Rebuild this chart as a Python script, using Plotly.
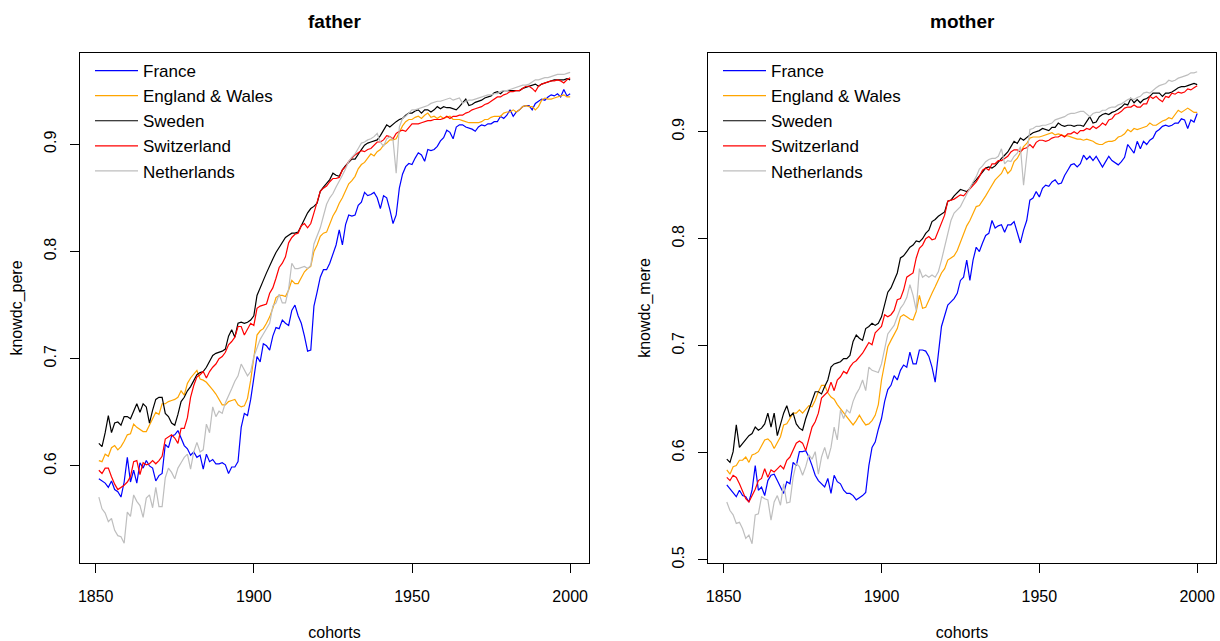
import plotly.graph_objects as go

cohorts = list(range(1851, 2001))
countries = ["France", "England & Wales", "Sweden", "Switzerland", "Netherlands"]
colors = ["#0000FF", "#FFA500", "#000000", "#FF0000", "#BEBEBE"]

# ---------------- father (knowdc_pere) ----------------
france_pere = [
    0.588, 0.586, 0.584, 0.580, 0.586, 0.578, 0.576, 0.571, 0.585, 0.608,
    0.585, 0.596, 0.584, 0.603, 0.598, 0.605, 0.600, 0.598, 0.586, 0.591,
    0.593, 0.620, 0.617, 0.628, 0.629, 0.633, 0.626, 0.619, 0.616, 0.610,
    0.613, 0.608, 0.610, 0.597, 0.611, 0.604, 0.606, 0.602, 0.602, 0.603,
    0.601, 0.593, 0.599, 0.599, 0.604, 0.636, 0.649, 0.647, 0.662, 0.680,
    0.702, 0.697, 0.714, 0.712, 0.708, 0.721, 0.729, 0.728, 0.736, 0.733,
    0.731, 0.745, 0.750, 0.740, 0.733, 0.721, 0.707, 0.708, 0.749, 0.762,
    0.776, 0.783, 0.783, 0.789, 0.798, 0.806, 0.820, 0.806, 0.825, 0.834,
    0.833, 0.834, 0.843, 0.846, 0.855, 0.852, 0.853, 0.855, 0.850, 0.840,
    0.852, 0.850, 0.839, 0.826, 0.834, 0.859, 0.872, 0.879, 0.882, 0.881,
    0.887, 0.892, 0.890, 0.884, 0.895, 0.894, 0.895, 0.898, 0.903, 0.906,
    0.913, 0.911, 0.905, 0.916, 0.918, 0.918, 0.916, 0.915, 0.914, 0.912,
    0.916, 0.918, 0.917, 0.919, 0.919, 0.921, 0.921, 0.926, 0.924, 0.927,
    0.932, 0.926, 0.930, 0.932, 0.935, 0.936, 0.936, 0.932, 0.938, 0.940,
    0.942, 0.941, 0.944, 0.946, 0.945, 0.947, 0.944, 0.951, 0.945, 0.947,
]
england_pere = [
    0.605, 0.604, 0.611, 0.609, 0.617, 0.619, 0.615, 0.618, 0.623, 0.629,
    0.630, 0.639, 0.636, 0.634, 0.632, 0.632, 0.638, 0.643, 0.650, 0.648,
    0.658, 0.658, 0.660, 0.661, 0.662, 0.664, 0.670, 0.666, 0.677, 0.682,
    0.686, 0.689, 0.681, 0.680, 0.678, 0.675, 0.671, 0.667, 0.662, 0.657,
    0.657, 0.660, 0.661, 0.662, 0.657, 0.655, 0.656, 0.663, 0.680, 0.702,
    0.722, 0.726, 0.728, 0.733, 0.739, 0.747, 0.757, 0.759, 0.759, 0.758,
    0.764, 0.773, 0.770, 0.770, 0.776, 0.781, 0.784, 0.786, 0.800, 0.806,
    0.814, 0.817, 0.818, 0.826, 0.833, 0.838, 0.845, 0.850, 0.856, 0.863,
    0.866, 0.870, 0.877, 0.881, 0.883, 0.887, 0.891, 0.889, 0.893, 0.895,
    0.899, 0.901, 0.904, 0.904, 0.905, 0.911, 0.917, 0.921, 0.923, 0.923,
    0.925, 0.926, 0.924, 0.927, 0.929, 0.925, 0.926, 0.924, 0.926, 0.924,
    0.925, 0.926, 0.923, 0.923, 0.923, 0.922, 0.921, 0.920, 0.920, 0.920,
    0.920, 0.921, 0.923, 0.923, 0.925, 0.926, 0.926, 0.926, 0.929, 0.930,
    0.930, 0.932, 0.930, 0.932, 0.935, 0.936, 0.935, 0.935, 0.932, 0.935,
    0.941, 0.943, 0.942, 0.942, 0.943, 0.944, 0.945, 0.946, 0.944, 0.944,
]
sweden_pere = [
    0.621, 0.618, 0.631, 0.647, 0.631, 0.640, 0.641, 0.638, 0.646, 0.646,
    0.644, 0.652, 0.658, 0.650, 0.658, 0.655, 0.640, 0.652, 0.662, 0.664,
    0.664, 0.649, 0.646, 0.640, 0.638, 0.648, 0.660, 0.664, 0.670, 0.674,
    0.679, 0.685, 0.687, 0.688, 0.692, 0.697, 0.703, 0.705, 0.706, 0.707,
    0.709, 0.721, 0.727, 0.720, 0.733, 0.734, 0.733, 0.734, 0.736, 0.740,
    0.759, 0.767, 0.773, 0.780, 0.787, 0.793, 0.799, 0.804, 0.809, 0.813,
    0.815, 0.817, 0.817, 0.818, 0.824, 0.830, 0.836, 0.840, 0.842, 0.845,
    0.856, 0.860, 0.863, 0.867, 0.873, 0.871, 0.870, 0.876, 0.880, 0.883,
    0.886, 0.886, 0.891, 0.895, 0.899, 0.901, 0.902, 0.903, 0.904, 0.908,
    0.913, 0.918, 0.916, 0.919, 0.921, 0.923, 0.924, 0.927, 0.929, 0.929,
    0.931, 0.932, 0.929, 0.932, 0.932, 0.930, 0.932, 0.935, 0.933, 0.935,
    0.934, 0.934, 0.933, 0.932, 0.935, 0.939, 0.942, 0.936, 0.937, 0.939,
    0.940, 0.941, 0.943, 0.944, 0.945, 0.948, 0.949, 0.947, 0.950, 0.950,
    0.950, 0.950, 0.950, 0.950, 0.952, 0.953, 0.954, 0.955, 0.956, 0.954,
    0.956, 0.957, 0.958, 0.959, 0.960, 0.960, 0.960, 0.960, 0.961, 0.960,
]
switzerland_pere = [
    0.596, 0.593, 0.598, 0.598, 0.590, 0.583, 0.578, 0.580, 0.582, 0.585,
    0.590, 0.604, 0.605, 0.592, 0.603, 0.601, 0.602, 0.605, 0.602, 0.605,
    0.609, 0.625, 0.627, 0.629, 0.626, 0.621, 0.635, 0.635, 0.645, 0.664,
    0.675, 0.683, 0.685, 0.688, 0.682, 0.688, 0.692, 0.695, 0.700, 0.702,
    0.706, 0.713, 0.716, 0.720, 0.730, 0.730, 0.722, 0.728, 0.733, 0.731,
    0.747, 0.749, 0.750, 0.751, 0.761, 0.766, 0.775, 0.785, 0.789, 0.795,
    0.808, 0.813, 0.816, 0.817, 0.824, 0.826, 0.822, 0.826, 0.836, 0.845,
    0.856, 0.859, 0.861, 0.865, 0.868, 0.868, 0.869, 0.876, 0.879, 0.884,
    0.887, 0.890, 0.892, 0.894, 0.893, 0.895, 0.896, 0.899, 0.902, 0.902,
    0.904, 0.908, 0.907, 0.905, 0.910, 0.912, 0.913, 0.912, 0.915, 0.919,
    0.919, 0.919, 0.920, 0.921, 0.922, 0.922, 0.923, 0.923, 0.923, 0.924,
    0.926, 0.924, 0.926, 0.926, 0.927, 0.927, 0.929, 0.930, 0.932, 0.933,
    0.934, 0.935, 0.937, 0.938, 0.940, 0.942, 0.944, 0.944, 0.946, 0.947,
    0.949, 0.949, 0.950, 0.950, 0.952, 0.954, 0.954, 0.952, 0.949, 0.954,
    0.956, 0.957, 0.958, 0.959, 0.959, 0.960, 0.959, 0.957, 0.960, 0.962,
]
netherlands_pere = [
    0.571, 0.560, 0.556, 0.548, 0.551, 0.540, 0.535, 0.534, 0.528, 0.557,
    0.553, 0.573, 0.567, 0.563, 0.552, 0.570, 0.573, 0.561, 0.580, 0.562,
    0.562, 0.589, 0.598, 0.594, 0.588, 0.598, 0.603, 0.608, 0.611, 0.597,
    0.613, 0.622, 0.613, 0.615, 0.639, 0.631, 0.655, 0.646, 0.651, 0.649,
    0.659, 0.665, 0.672, 0.679, 0.684, 0.695, 0.690, 0.684, 0.688, 0.702,
    0.710, 0.718, 0.723, 0.728, 0.733, 0.749, 0.752, 0.760, 0.752, 0.752,
    0.765, 0.789, 0.784, 0.784, 0.785, 0.786, 0.784, 0.787, 0.807, 0.814,
    0.822, 0.833, 0.844, 0.850, 0.854, 0.860, 0.865, 0.871, 0.877, 0.884,
    0.888, 0.891, 0.896, 0.901, 0.902, 0.904, 0.905, 0.907, 0.910, 0.902,
    0.898, 0.905, 0.907, 0.904, 0.873, 0.916, 0.924, 0.926, 0.929, 0.932,
    0.932, 0.933, 0.934, 0.935, 0.936, 0.938, 0.939, 0.940, 0.940, 0.941,
    0.942, 0.943, 0.941, 0.942, 0.943, 0.938, 0.940, 0.941, 0.941, 0.942,
    0.943, 0.944, 0.945, 0.946, 0.946, 0.947, 0.947, 0.949, 0.950, 0.950,
    0.951, 0.952, 0.953, 0.954, 0.955, 0.955, 0.956, 0.958, 0.960, 0.960,
    0.961, 0.962, 0.962, 0.963, 0.964, 0.965, 0.965, 0.965, 0.966, 0.967,
]

# ---------------- mother (knowdc_mere) ----------------
france_mere = [
    0.570, 0.566, 0.563, 0.559, 0.565, 0.560, 0.559, 0.554, 0.565, 0.588,
    0.565, 0.568, 0.560, 0.574, 0.579, 0.580, 0.574, 0.568, 0.562, 0.573,
    0.571, 0.591, 0.588, 0.601, 0.601, 0.602, 0.596, 0.588, 0.579, 0.574,
    0.571, 0.568, 0.576, 0.562, 0.579, 0.573, 0.571, 0.565, 0.562, 0.562,
    0.560, 0.556, 0.558, 0.560, 0.563, 0.588, 0.605, 0.610, 0.622, 0.632,
    0.648, 0.659, 0.663, 0.672, 0.668, 0.677, 0.682, 0.680, 0.694, 0.683,
    0.683, 0.696, 0.696, 0.695, 0.690, 0.680, 0.666, 0.690, 0.718, 0.728,
    0.738, 0.741, 0.744, 0.749, 0.761, 0.764, 0.780, 0.761, 0.780, 0.792,
    0.788, 0.796, 0.803, 0.805, 0.817, 0.810, 0.812, 0.813, 0.806, 0.813,
    0.813, 0.816, 0.806, 0.796, 0.808, 0.817, 0.836, 0.838, 0.844, 0.839,
    0.847, 0.850, 0.849, 0.853, 0.855, 0.851, 0.852, 0.859, 0.864, 0.869,
    0.870, 0.867, 0.870, 0.878, 0.874, 0.877, 0.873, 0.877, 0.872, 0.867,
    0.872, 0.877, 0.873, 0.871, 0.869, 0.872, 0.876, 0.888, 0.884, 0.880,
    0.891, 0.884, 0.891, 0.888, 0.892, 0.894, 0.900, 0.902, 0.905, 0.906,
    0.905, 0.906, 0.908, 0.908, 0.912, 0.911, 0.903, 0.911, 0.909, 0.917,
]
england_mere = [
    0.584, 0.580, 0.587, 0.588, 0.593, 0.593, 0.596, 0.591, 0.598, 0.599,
    0.601, 0.607, 0.612, 0.613, 0.610, 0.604, 0.610, 0.615, 0.626, 0.627,
    0.632, 0.637, 0.637, 0.640, 0.637, 0.641, 0.644, 0.643, 0.649, 0.657,
    0.663, 0.663, 0.656, 0.652, 0.650, 0.645, 0.641, 0.637, 0.633, 0.629,
    0.626, 0.630, 0.635, 0.630, 0.626, 0.627, 0.630, 0.635, 0.645, 0.668,
    0.682, 0.699, 0.705, 0.710, 0.716, 0.727, 0.729, 0.727, 0.725, 0.724,
    0.732, 0.747, 0.735, 0.736, 0.743, 0.749, 0.755, 0.761, 0.768, 0.772,
    0.780, 0.782, 0.784, 0.789, 0.797, 0.805, 0.812, 0.817, 0.824, 0.830,
    0.831, 0.835, 0.840, 0.845, 0.850, 0.855, 0.858, 0.861, 0.867, 0.861,
    0.864, 0.872, 0.875, 0.880, 0.886, 0.889, 0.894, 0.895, 0.895, 0.895,
    0.896, 0.897, 0.898, 0.899, 0.897, 0.898, 0.897, 0.896, 0.896, 0.895,
    0.894, 0.893, 0.893, 0.892, 0.893, 0.892, 0.891, 0.889, 0.888, 0.888,
    0.890, 0.891, 0.891, 0.892, 0.895, 0.896, 0.898, 0.902, 0.900, 0.903,
    0.902, 0.903, 0.904, 0.905, 0.908, 0.906, 0.906, 0.908, 0.910, 0.911,
    0.913, 0.912, 0.916, 0.920, 0.918, 0.920, 0.922, 0.920, 0.918, 0.918,
]
sweden_mere = [
    0.594, 0.591, 0.601, 0.626, 0.605, 0.609, 0.612, 0.616, 0.618, 0.624,
    0.621, 0.623, 0.627, 0.637, 0.624, 0.637, 0.616, 0.627, 0.637, 0.644,
    0.634, 0.637, 0.627, 0.623, 0.621, 0.632, 0.641, 0.648, 0.657, 0.657,
    0.655, 0.662, 0.668, 0.680, 0.683, 0.684, 0.685, 0.688, 0.688, 0.691,
    0.704, 0.710, 0.707, 0.705, 0.716, 0.718, 0.721, 0.719, 0.721, 0.727,
    0.740, 0.750, 0.754, 0.761, 0.768, 0.782, 0.784, 0.788, 0.792, 0.794,
    0.798, 0.797, 0.800, 0.805, 0.808, 0.816, 0.818, 0.821, 0.823, 0.825,
    0.835, 0.836, 0.840, 0.843, 0.846, 0.845, 0.844, 0.847, 0.852, 0.855,
    0.859, 0.863, 0.866, 0.867, 0.866, 0.868, 0.872, 0.875, 0.878, 0.881,
    0.886, 0.891, 0.889, 0.894, 0.892, 0.895, 0.897, 0.899, 0.900, 0.901,
    0.903, 0.902, 0.901, 0.904, 0.904, 0.908, 0.906, 0.905, 0.906, 0.906,
    0.905, 0.906, 0.906, 0.905, 0.909, 0.914, 0.908, 0.909, 0.914, 0.916,
    0.917, 0.916, 0.918, 0.919, 0.921, 0.923, 0.926, 0.925, 0.931, 0.927,
    0.930, 0.927, 0.930, 0.931, 0.933, 0.936, 0.936, 0.936, 0.933, 0.936,
    0.936, 0.937, 0.939, 0.941, 0.942, 0.942, 0.943, 0.944, 0.945, 0.944,
]
switzerland_mere = [
    0.577, 0.574, 0.579, 0.577, 0.571, 0.563, 0.557, 0.554, 0.560, 0.566,
    0.574, 0.576, 0.585, 0.577, 0.584, 0.582, 0.585, 0.588, 0.585, 0.593,
    0.596, 0.602, 0.609, 0.611, 0.609, 0.602, 0.613, 0.624, 0.629, 0.637,
    0.651, 0.654, 0.657, 0.666, 0.658, 0.668, 0.671, 0.676, 0.674, 0.680,
    0.684, 0.686, 0.689, 0.693, 0.698, 0.703, 0.701, 0.712, 0.715, 0.718,
    0.729, 0.727, 0.729, 0.733, 0.743, 0.744, 0.752, 0.764, 0.766, 0.768,
    0.782, 0.791, 0.794, 0.800, 0.802, 0.799, 0.800, 0.807, 0.815, 0.822,
    0.835, 0.836, 0.837, 0.839, 0.841, 0.840, 0.843, 0.846, 0.850, 0.853,
    0.858, 0.864, 0.866, 0.864, 0.870, 0.870, 0.873, 0.873, 0.875, 0.877,
    0.881, 0.883, 0.883, 0.881, 0.884, 0.885, 0.888, 0.885, 0.890, 0.892,
    0.892, 0.891, 0.892, 0.894, 0.895, 0.895, 0.897, 0.895, 0.898, 0.898,
    0.900, 0.898, 0.901, 0.901, 0.903, 0.902, 0.905, 0.903, 0.905, 0.908,
    0.906, 0.911, 0.912, 0.916, 0.917, 0.919, 0.922, 0.923, 0.923, 0.925,
    0.923, 0.923, 0.926, 0.926, 0.933, 0.931, 0.933, 0.930, 0.928, 0.933,
    0.932, 0.936, 0.935, 0.937, 0.936, 0.937, 0.940, 0.939, 0.941, 0.943,
]
netherlands_mere = [
    0.554, 0.546, 0.542, 0.534, 0.535, 0.529, 0.520, 0.523, 0.515, 0.542,
    0.543, 0.559, 0.557, 0.556, 0.537, 0.554, 0.560, 0.551, 0.571, 0.553,
    0.554, 0.577, 0.590, 0.587, 0.579, 0.587, 0.598, 0.594, 0.601, 0.580,
    0.596, 0.605, 0.594, 0.605, 0.624, 0.612, 0.640, 0.632, 0.640, 0.637,
    0.648, 0.655, 0.660, 0.668, 0.658, 0.680, 0.677, 0.676, 0.675, 0.683,
    0.697, 0.711, 0.715, 0.719, 0.727, 0.735, 0.739, 0.745, 0.757, 0.747,
    0.733, 0.772, 0.764, 0.766, 0.764, 0.766, 0.764, 0.769, 0.780, 0.792,
    0.805, 0.817, 0.824, 0.827, 0.830, 0.836, 0.842, 0.847, 0.853, 0.858,
    0.865, 0.868, 0.872, 0.874, 0.875, 0.875, 0.877, 0.884, 0.870, 0.873,
    0.872, 0.877, 0.880, 0.886, 0.850, 0.877, 0.902, 0.903, 0.905, 0.905,
    0.906, 0.906, 0.907, 0.908, 0.911, 0.912, 0.913, 0.914, 0.916, 0.917,
    0.917, 0.918, 0.919, 0.919, 0.916, 0.914, 0.917, 0.918, 0.918, 0.920,
    0.920, 0.922, 0.923, 0.923, 0.925, 0.926, 0.928, 0.930, 0.931, 0.930,
    0.932, 0.933, 0.936, 0.937, 0.936, 0.939, 0.941, 0.943, 0.944, 0.945,
    0.948, 0.947, 0.948, 0.950, 0.951, 0.952, 0.953, 0.955, 0.955, 0.956,
]

x_ticks = [1850, 1900, 1950, 2000]
y_ticks_pere = [0.6, 0.7, 0.8, 0.9]
y_ticks_mere = [0.5, 0.6, 0.7, 0.8, 0.9]

pere = [france_pere, england_pere, sweden_pere, switzerland_pere, netherlands_pere]
mere = [france_mere, england_mere, sweden_mere, switzerland_mere, netherlands_mere]

FONT = "Liberation Sans, Arial, Helvetica, sans-serif"
W, H = 1220, 641

fig = go.Figure()
for name, col, vals in zip(countries, colors, pere):
    fig.add_trace(go.Scatter(x=cohorts, y=vals, mode="lines", name=name,
                             line=dict(color=col, width=1.2),
                             xaxis="x", yaxis="y", legend="legend"))
for name, col, vals in zip(countries, colors, mere):
    fig.add_trace(go.Scatter(x=cohorts, y=vals, mode="lines", name=name,
                             line=dict(color=col, width=1.2),
                             xaxis="x2", yaxis="y2", legend="legend2"))

# plot-box pixel geometry
L1, R1 = 80, 589
L2, R2 = 708, 1216
TOP, BOT = 53, 563
ydom = [(H - BOT) / H, (H - TOP) / H]

common_axis = dict(showline=True, linecolor="black", linewidth=1, mirror=True,
                   ticks="outside", ticklen=9, tickwidth=1, tickcolor="black",
                   showgrid=False, zeroline=False,
                   tickfont=dict(family=FONT, size=16, color="black"))

xr = [1845.04, 2005.96]
leg_common = dict(xanchor="left", yanchor="top", bgcolor="rgba(0,0,0,0)",
                  borderwidth=0, itemwidth=43,
                  font=dict(family=FONT, size=17, color="black"))
fig.update_layout(
    width=W, height=H,
    margin=dict(l=0, r=0, t=0, b=0),
    paper_bgcolor="white", plot_bgcolor="white",
    font=dict(family=FONT, size=16, color="black"),
    xaxis=dict(domain=[L1 / W, R1 / W], range=xr, tickvals=x_ticks,
               title=dict(text="cohorts", standoff=22, font=dict(size=16)),
               anchor="y", ticklabelstandoff=10, automargin=False, **common_axis),
    yaxis=dict(domain=ydom, range=[0.5095, 0.985], tickvals=y_ticks_pere,
               tickangle=-90, tickformat=".1f",
               title=dict(text="knowdc_pere", standoff=14, font=dict(size=16)),
               anchor="x", ticklabelstandoff=8, automargin=False, **common_axis),
    xaxis2=dict(domain=[L2 / W, R2 / W], range=xr, tickvals=x_ticks,
                title=dict(text="cohorts", standoff=22, font=dict(size=16)),
                anchor="y2", ticklabelstandoff=10, automargin=False, **common_axis),
    yaxis2=dict(domain=ydom, range=[0.497, 0.9735], tickvals=y_ticks_mere,
                tickangle=-90, tickformat=".1f",
                title=dict(text="knowdc_mere", standoff=14, font=dict(size=16)),
                anchor="x2", ticklabelstandoff=8, automargin=False, **common_axis),
    legend=dict(x=(L1 + 10) / W, y=(H - 53) / H, **leg_common),
    legend2=dict(x=(L2 + 10) / W, y=(H - 53) / H, **leg_common),
    annotations=[
        dict(text="<b>father</b>", x=(L1 + R1) / 2 / W, y=(H - 21) / H,
             xref="paper", yref="paper", showarrow=False,
             xanchor="center", yanchor="middle",
             font=dict(family=FONT, size=19, color="black")),
        dict(text="<b>mother</b>", x=(L2 + R2) / 2 / W, y=(H - 21) / H,
             xref="paper", yref="paper", showarrow=False,
             xanchor="center", yanchor="middle",
             font=dict(family=FONT, size=19, color="black")),
    ],
    showlegend=True,
)

fig.write_html("out.html",
               config={"displayModeBar": False},
               post_script="document.body.style.margin='0px';"
                           "document.body.style.padding='0px';"
                           "document.body.style.overflow='hidden';")
